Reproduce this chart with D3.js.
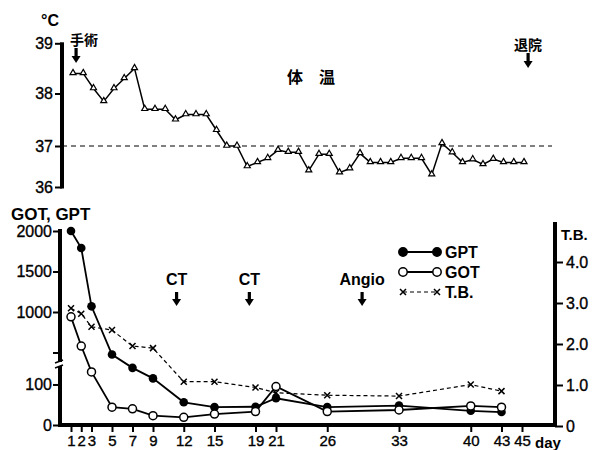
<!DOCTYPE html>
<html><head><meta charset="utf-8">
<script src="https://cdn.jsdelivr.net/npm/d3@7/dist/d3.min.js"></script>
<style>
body{margin:0;background:#fff;}
svg{display:block;font-family:"Liberation Sans",Arial,sans-serif;}
</style></head>
<body><svg id="c" width="592" height="450"></svg>
<script>
// ---- data ----
const tempDays = d3.range(1, 46);
const temps = [38.4,38.4,38.1,37.85,38.1,38.3,38.5,37.7,37.7,37.7,37.5,37.6,37.6,37.6,37.3,37.0,37.0,36.5,36.6,36.7,36.9,36.85,36.85,36.4,36.8,36.8,36.35,36.45,36.82,36.6,36.6,36.6,36.7,36.7,36.7,36.3,37.05,36.84,36.6,36.67,36.55,36.68,36.6,36.6,36.6];
const tempTicks = [36, 37, 38, 39];
const labDays = [1,2,3,5,7,9,12,15,19,21,26,33,40,43];
const gpt = [2000,1790,1070,475,141,115,56,44,45,66,44,48,35,32];
const got = [940,580,131,44,40,23,19,27,33,95,33,37,47,44];
const tb  = [2.87,2.74,2.42,2.34,1.95,1.90,1.08,1.08,0.94,0.81,0.75,0.73,1.01,0.85];
const dayTicks = [1,2,3,5,7,9,12,15,19,21,26,33,40,43,45];
const leftTicks = [0,100,500,1000,1500,2000];
const rightTicks = [0,1,2,3,4];
const labEvents = [{label:"CT", day:11.3},{label:"CT", day:18.4},{label:"Angio", day:29.4}];
const tempEvents = [{label:"手術", day:1.3},{label:"退院", day:45.4}];

const svg = d3.select("#c");
const FONT = '"Liberation Sans",Arial,sans-serif';
const CJK = '"Noto Sans CJK JP",sans-serif';

// ---- scales ----
const xB = d3.scaleLinear().domain([0,45]).range([60.75, 522]);
const xT = d3.scaleLinear().domain([0,45]).range([62.75, 524]);
const yT = d3.scaleLinear().domain([36,37,38,39]).range([187,146,93.5,43.3]);
const yL = d3.scaleLinear().domain([0,150,400,2000]).range([425,364.2,360.6,231]);
const yR = d3.scaleLinear().domain([0,4]).range([426,262]);

function arrow(x, y1, y2){
  svg.append("rect").attr("x", x-1.6).attr("y", y1).attr("width", 3.2).attr("height", y2-y1-5).attr("fill","#000");
  svg.append("path").attr("d", `M${x-4.5},${y2-7}L${x+4.5},${y2-7}L${x},${y2}Z`).attr("fill","#000");
}
function styleTicks(g, size){
  g.select(".domain").remove();
  g.selectAll(".tick line").attr("stroke","#000").attr("stroke-width",2);
  g.selectAll(".tick text").attr("font-size",size).attr("font-family",FONT).attr("fill","#000")
    .attr("stroke","#000").attr("stroke-width",0.35);
}

// ---- temperature panel ----
const gT = svg.append("g");
const axT = d3.axisLeft(yT).tickValues(tempTicks).tickSize(7).tickPadding(2).tickFormat(d3.format("d"));
gT.append("g").attr("transform","translate(62,0)").call(axT).call(g=>styleTicks(g,16));
gT.append("line").attr("x1",62).attr("x2",62).attr("y1",yT(39)-1).attr("y2",yT(36)+1.5).attr("stroke","#000").attr("stroke-width",4);
gT.append("line").attr("x1",62).attr("x2",552).attr("y1",yT(37)).attr("y2",yT(37))
  .attr("stroke","#000").attr("stroke-width",1).attr("stroke-dasharray","5,4");
gT.append("path").datum(temps)
  .attr("d", d3.line().x((d,i)=>xT(tempDays[i])).y(d=>yT(d)))
  .attr("fill","none").attr("stroke","#000").attr("stroke-width",1.5);
gT.selectAll(".tri").data(temps).join("path")
  .attr("d", d3.symbol().type(d3.symbolTriangle).size(16))
  .attr("transform",(d,i)=>`translate(${xT(tempDays[i])},${yT(d)-0.5})`)
  .attr("fill","#fff").attr("stroke","#000").attr("stroke-width",1.2);
svg.append("text").attr("x",41).attr("y",26).attr("font-size",16).attr("font-weight","bold").attr("font-family",FONT).text("°C");
svg.append("text").attr("x",287).attr("y",83).attr("font-size",16).attr("font-family",CJK).attr("font-weight","bold").attr("fill","#000").text("体　温");
tempEvents.forEach((e,i)=>{
  const x = xT(e.day);
  svg.append("text").attr("x", i===0 ? 70 : x).attr("y", i===0 ? 45 : 50)
    .attr("text-anchor", i===0 ? "start" : "middle").attr("fill","#000")
    .attr("font-size",14).attr("font-family",CJK).attr("font-weight","bold").text(e.label);
  arrow(x, i===0 ? 48 : 53, i===0 ? 63 : 68);
});

// ---- lab panel ----
const gB = svg.append("g");
const axB = d3.axisBottom(xB).tickValues(dayTicks).tickSize(7).tickPadding(3);
gB.append("g").attr("transform","translate(0,425)").call(axB).call(g=>styleTicks(g,15));
gB.append("line").attr("x1",58).attr("x2",557).attr("y1",425).attr("y2",425).attr("stroke","#000").attr("stroke-width",4);
svg.append("text").attr("x",535).attr("y",448).attr("font-size",15).attr("font-weight","bold").attr("font-family",FONT).text("day");
const axL = d3.axisLeft(yL).tickValues(leftTicks).tickSize(7).tickPadding(1).tickFormat(d=> d===500 ? "" : d);
gB.append("g").attr("transform","translate(60,0)").call(axL).call(g=>styleTicks(g,16));
gB.append("line").attr("x1",60).attr("x2",60).attr("y1",229).attr("y2",362).attr("stroke","#000").attr("stroke-width",4);
gB.append("line").attr("x1",60).attr("x2",60).attr("y1",366).attr("y2",427).attr("stroke","#000").attr("stroke-width",4);
gB.append("line").attr("x1",55).attr("x2",63).attr("y1",363).attr("y2",360).attr("stroke","#000").attr("stroke-width",1.5);
gB.append("line").attr("x1",55).attr("x2",63).attr("y1",368).attr("y2",365).attr("stroke","#000").attr("stroke-width",1.5);
svg.append("text").attr("x",11).attr("y",220).attr("font-size",17).attr("font-weight","bold").attr("font-family",FONT).text("GOT, GPT");
const axR = d3.axisRight(yR).tickValues(rightTicks).tickSize(8).tickPadding(3).tickFormat(d=> d===0 ? "0" : d.toFixed(1));
gB.append("g").attr("transform","translate(555,0)").call(axR).call(g=>styleTicks(g,16));
gB.append("line").attr("x1",555).attr("x2",555).attr("y1",222).attr("y2",427).attr("stroke","#000").attr("stroke-width",4);
svg.append("text").attr("x",561).attr("y",240).attr("font-size",15).attr("font-weight","bold").attr("font-family",FONT).text("T.B.");

// series
gB.append("path").datum(tb).attr("d", d3.line().x((d,i)=>xB(labDays[i])).y(d=>yR(d)))
  .attr("fill","none").attr("stroke","#000").attr("stroke-width",1.2).attr("stroke-dasharray","4,3");
gB.selectAll(".xm").data(tb).join("path")
  .attr("d", "M-3,-3L3,3M-3,3L3,-3")
  .attr("transform",(d,i)=>`translate(${xB(labDays[i])},${yR(d)})`)
  .attr("stroke","#000").attr("stroke-width",1.5);
gB.append("path").datum(gpt).attr("d", d3.line().x((d,i)=>xB(labDays[i])).y(d=>yL(d)))
  .attr("fill","none").attr("stroke","#000").attr("stroke-width",1.8);
gB.append("path").datum(got).attr("d", d3.line().x((d,i)=>xB(labDays[i])).y(d=>yL(d)))
  .attr("fill","none").attr("stroke","#000").attr("stroke-width",1.8);
gB.selectAll(".gpt").data(gpt).join("circle")
  .attr("cx",(d,i)=>xB(labDays[i])).attr("cy",d=>yL(d)).attr("r",4.3).attr("fill","#000");
gB.selectAll(".got").data(got).join("circle")
  .attr("cx",(d,i)=>xB(labDays[i])).attr("cy",d=>yL(d)).attr("r",4).attr("fill","#fff").attr("stroke","#000").attr("stroke-width",1.5);

// events
labEvents.forEach(e=>{
  const x = xB(e.day);
  svg.append("text").attr("x",x).attr("y",285).attr("text-anchor","middle").attr("font-size",16)
    .attr("font-weight","bold").attr("font-family",FONT).text(e.label);
  arrow(x, 292, 306);
});

// legend
const leg = [{k:"GPT",t:"fill"},{k:"GOT",t:"open"},{k:"T.B.",t:"x"}];
leg.forEach((l,i)=>{
  const y = 252 + i*20;
  const line = svg.append("line").attr("x1",403).attr("x2",437).attr("y1",y).attr("y2",y).attr("stroke","#000").attr("stroke-width",1.8);
  if(l.t==="x"){ line.attr("stroke-dasharray","4,3").attr("stroke-width",1.2);
    [403,437].forEach(x=> svg.append("path").attr("d",`M${x-3},${y-3}L${x+3},${y+3}M${x-3},${y+3}L${x+3},${y-3}`).attr("stroke","#000").attr("stroke-width",1.5));
  } else {
    [403,437].forEach(x=> svg.append("circle").attr("cx",x).attr("cy",y).attr("r",4.2)
      .attr("fill", l.t==="fill" ? "#000" : "#fff").attr("stroke","#000").attr("stroke-width",1.5));
  }
  svg.append("text").attr("x",445).attr("y",y+6).attr("font-size",16).attr("font-weight","bold").attr("font-family",FONT).text(l.k);
});
</script></body></html>
